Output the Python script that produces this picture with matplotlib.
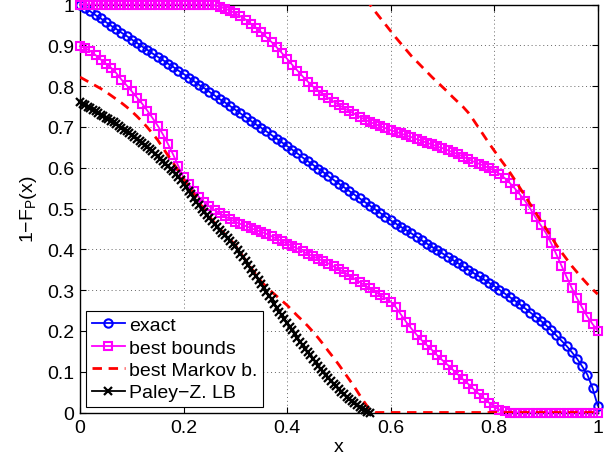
import numpy as np
import matplotlib
matplotlib.use("Agg")
import matplotlib.pyplot as plt

plt.rcParams['font.family'] = ['Liberation Sans', 'DejaVu Sans']
plt.rcParams['mathtext.fontset'] = 'custom'
plt.rcParams['mathtext.rm'] = 'Liberation Sans'
plt.rcParams['mathtext.it'] = 'Liberation Sans:italic'

# ---------------- data ----------------
x_grid = [round(0.01 * i, 2) for i in range(101)]

exact = [1.000, 0.991, 0.983, 0.974, 0.966, 0.957, 0.948, 0.940, 0.931, 0.923,
         0.914, 0.906, 0.897, 0.889, 0.880, 0.872, 0.864, 0.855, 0.847, 0.838,
         0.830, 0.821, 0.812, 0.803, 0.795, 0.786, 0.777, 0.768, 0.760, 0.751,
         0.742, 0.733, 0.724, 0.715, 0.706, 0.698, 0.689, 0.680, 0.671, 0.662,
         0.653, 0.644, 0.635, 0.625, 0.616, 0.607, 0.598, 0.589, 0.579, 0.570,
         0.561, 0.552, 0.543, 0.534, 0.525, 0.516, 0.507, 0.498, 0.489, 0.480,
         0.471, 0.463, 0.455, 0.447, 0.439, 0.431, 0.422, 0.414, 0.406, 0.398,
         0.390, 0.382, 0.374, 0.366, 0.358, 0.350, 0.342, 0.334, 0.326, 0.318,
         0.310, 0.301, 0.292, 0.283, 0.274, 0.265, 0.255, 0.245, 0.235, 0.225,
         0.214, 0.202, 0.189, 0.176, 0.163, 0.148, 0.132, 0.113, 0.093, 0.060,
         0.017]

bounds_upper = [1.0] * 26 + [
         0.998, 0.995, 0.990, 0.985, 0.978, 0.971, 0.963, 0.953, 0.943, 0.932,
         0.920, 0.908, 0.895, 0.881, 0.867, 0.852, 0.838, 0.824, 0.811, 0.799,
         0.789, 0.779, 0.770, 0.762, 0.754, 0.746, 0.739, 0.732, 0.725, 0.718,
         0.712, 0.707, 0.702, 0.697, 0.692, 0.688, 0.684, 0.679, 0.675, 0.670,
         0.666, 0.661, 0.657, 0.652, 0.648, 0.643, 0.638, 0.633, 0.627, 0.621,
         0.615, 0.610, 0.605, 0.599, 0.593, 0.585, 0.575, 0.563, 0.549, 0.534,
         0.518, 0.499, 0.478, 0.459, 0.440, 0.415, 0.388, 0.360, 0.332, 0.305,
         0.280, 0.257, 0.235, 0.217, 0.200]

bounds_lower = [
         0.898, 0.893, 0.886, 0.876, 0.865, 0.855, 0.845, 0.832, 0.816, 0.802,
         0.787, 0.772, 0.757, 0.740, 0.722, 0.703, 0.682, 0.658, 0.632, 0.604,
         0.576, 0.559, 0.542, 0.528, 0.516, 0.505, 0.496, 0.488, 0.481, 0.474,
         0.467, 0.462, 0.457, 0.452, 0.447, 0.443, 0.438, 0.432, 0.426, 0.420,
         0.414, 0.408, 0.402, 0.395, 0.389, 0.383, 0.377, 0.371, 0.365, 0.358,
         0.351, 0.344, 0.336, 0.328, 0.320, 0.312, 0.304, 0.296, 0.288, 0.280,
         0.272, 0.258, 0.240, 0.222, 0.206, 0.191, 0.177, 0.165, 0.153, 0.140,
         0.128, 0.117, 0.105, 0.093, 0.081, 0.070, 0.058, 0.046, 0.035, 0.024,
         0.014, 0.007, 0.003] + [0.0] * 18

markov_lower = [
         0.822, 0.815, 0.808, 0.801, 0.794, 0.786, 0.777, 0.768, 0.759, 0.749,
         0.738, 0.726, 0.713, 0.699, 0.684, 0.668, 0.649, 0.630, 0.612, 0.592,
         0.572, 0.554, 0.536, 0.516, 0.496, 0.480, 0.465, 0.450, 0.437, 0.424,
         0.410, 0.391, 0.373, 0.355, 0.338, 0.321, 0.308, 0.296, 0.285, 0.274,
         0.263, 0.250, 0.237, 0.225, 0.212, 0.198, 0.183, 0.167, 0.150, 0.134,
         0.117, 0.099, 0.081, 0.063, 0.043, 0.024, 0.006] + [0.0] * 44

x_markov_upper = [round(0.55 + 0.01 * i, 2) for i in range(46)]
markov_upper = [
         1.016, 1.000, 0.983, 0.967, 0.951, 0.935, 0.919, 0.904, 0.889, 0.874,
         0.861, 0.848, 0.835, 0.822, 0.810, 0.798, 0.786, 0.773, 0.761, 0.749,
         0.735, 0.717, 0.698, 0.679, 0.660, 0.642, 0.624, 0.607, 0.589, 0.570,
         0.550, 0.530, 0.510, 0.490, 0.470, 0.451, 0.431, 0.411, 0.393, 0.376,
         0.359, 0.344, 0.329, 0.315, 0.302, 0.290]

x_paley = [round(0.005 * i, 3) for i in range(113)]
paley = [0.760, 0.757, 0.753, 0.750, 0.746, 0.742, 0.738, 0.734, 0.730, 0.727,
         0.723, 0.719, 0.715, 0.711, 0.706, 0.702, 0.698, 0.693, 0.689, 0.684,
         0.680, 0.675, 0.670, 0.666, 0.661, 0.656, 0.651, 0.646, 0.640, 0.634,
         0.628, 0.622, 0.616, 0.610, 0.604, 0.598, 0.591, 0.584, 0.577, 0.569,
         0.561, 0.552, 0.543, 0.535, 0.526, 0.517, 0.508, 0.500, 0.492, 0.484,
         0.476, 0.469, 0.462, 0.455, 0.448, 0.441, 0.434, 0.427, 0.421, 0.414,
         0.407, 0.398, 0.389, 0.380, 0.371, 0.362, 0.352, 0.343, 0.334, 0.324,
         0.315, 0.305, 0.296, 0.286, 0.277, 0.267, 0.257, 0.247, 0.238, 0.228,
         0.219, 0.210, 0.201, 0.192, 0.183, 0.174, 0.165, 0.156, 0.148, 0.140,
         0.131, 0.123, 0.115, 0.107, 0.099, 0.092, 0.085, 0.078, 0.071, 0.064,
         0.058, 0.051, 0.045, 0.039, 0.033, 0.028, 0.023, 0.018, 0.013, 0.009,
         0.005, 0.002, 0.000]

ticks = [0, 0.2, 0.4, 0.6, 0.8, 1]
tick_labels = ['0', '0.2', '0.4', '0.6', '0.8', '1']
yticks = [0, 0.1, 0.2, 0.3, 0.4, 0.5, 0.6, 0.7, 0.8, 0.9, 1]
ytick_labels = ['0', '0.1', '0.2', '0.3', '0.4', '0.5', '0.6', '0.7', '0.8', '0.9', '1']

# ---------------- figure ----------------
fig = plt.figure(figsize=(6.13, 4.60), dpi=100)
ax = fig.add_axes([80 / 613, 46.5 / 460, 517.7 / 613, 408 / 460])

blue = '#0000FF'
mag = '#FF00FF'
red = '#FF0000'

ax.plot(x_grid, exact, '-', color=blue, lw=1.3, marker='o', ms=6, mfc='none',
        mew=1.5, label='exact', clip_on=False, zorder=3)
ax.plot(x_grid, bounds_upper, '-', color=mag, lw=1.3, marker='s', ms=5.4, mfc='none',
        mew=1.5, label='best bounds', clip_on=False, zorder=3)
ax.plot(x_grid, bounds_lower, '-', color=mag, lw=1.3, marker='s', ms=5.4, mfc='none',
        mew=1.5, clip_on=False, zorder=3)
ax.plot(x_grid, markov_lower, color=red, lw=2.0, dashes=(3.4, 2.4),
        label='best Markov b.', zorder=3.1)
ax.plot(x_markov_upper, markov_upper, color=red, lw=2.0, dashes=(3.4, 2.4), zorder=3.1)
ax.plot(x_paley, paley, '-', color='k', lw=1.3, marker='x', ms=5.5, mew=1.6,
        label='Paley\u2212Z. LB', clip_on=False, zorder=3.2)

ax.set_xlim(0, 1)
ax.set_ylim(0, 1)
ax.set_xticks(ticks)
ax.set_xticklabels(tick_labels)
ax.set_yticks(yticks)
ax.set_yticklabels(ytick_labels)
ax.tick_params(direction='in', top=True, right=True, length=4, width=0.8,
               labelsize=14, colors='k')
ax.tick_params(axis='x', pad=5)
ax.tick_params(axis='y', pad=4)
ax.grid(True, linestyle=(0, (1, 3)), color='0.4', linewidth=0.7)
for s in ax.spines.values():
    s.set_linewidth(1.0)
    s.set_color('k')

ax.set_xlabel('x', fontsize=14, labelpad=1)
ax.set_ylabel('1\u2212F$_\\mathregular{P}$(x)', fontsize=14, labelpad=6)

leg = ax.legend(loc='lower left', bbox_to_anchor=(0.0116, 0.0127), borderaxespad=0,
                fontsize=14, fancybox=False, framealpha=1, edgecolor='k',
                handlelength=1.7, handletextpad=0.2, labelspacing=0.25,
                borderpad=0.3)
leg.get_frame().set_linewidth(0.8)

fig.savefig('out.png', dpi=100)
